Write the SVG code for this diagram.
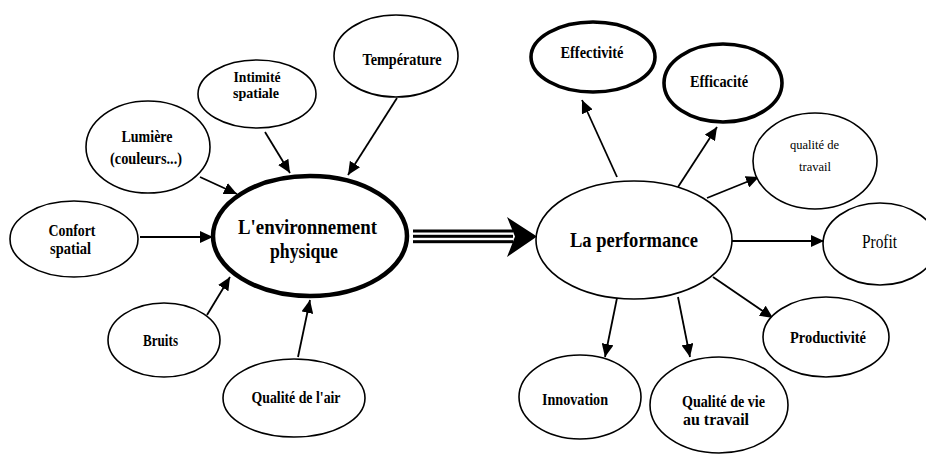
<svg xmlns="http://www.w3.org/2000/svg" width="926" height="454" viewBox="0 0 926 454">
<style>
.n{fill:#fff;stroke:#000;stroke-width:1.6}
.thick{stroke-width:4.5}
.med{stroke-width:3.6}
text{font-family:"Liberation Serif","Times New Roman",serif;font-weight:bold;font-size:17px;text-anchor:middle;fill:#000}
.big{font-size:22px}
.sm{font-size:15px}
.reg{font-weight:normal;font-size:13px}
.rg{font-weight:normal;font-size:18px}
.c line{stroke:#000;stroke-width:1.8;marker-end:url(#ah)}
</style>
<defs>
<marker id="ah" markerUnits="userSpaceOnUse" markerWidth="14" markerHeight="12" refX="13" refY="6" orient="auto">
<path d="M0,0 L13,6 L0,12 Z" fill="#000"/>
</marker>
</defs>
<rect width="926" height="454" fill="#fff"/>
<g class="c" id="connectors">
<line x1="140" y1="237" x2="213" y2="237"/>
<line x1="200" y1="177" x2="237" y2="194"/>
<line x1="265" y1="132" x2="290" y2="173"/>
<line x1="397" y1="98" x2="348" y2="175"/>
<line x1="207" y1="315" x2="230" y2="277"/>
<line x1="298" y1="357" x2="310" y2="300"/>
<line x1="617" y1="177" x2="582" y2="100"/>
<line x1="678" y1="187" x2="717" y2="127"/>
<line x1="707" y1="198" x2="759" y2="177"/>
<line x1="732" y1="241" x2="824" y2="241"/>
<line x1="713" y1="277" x2="773" y2="318"/>
<line x1="617" y1="298" x2="605" y2="357"/>
<line x1="678" y1="297" x2="690" y2="357"/>
<g id="big-arrow">
<rect x="413" y="229.5" width="100" height="3" fill="#000"/>
<rect x="413" y="234.8" width="100" height="3" fill="#000"/>
<rect x="413" y="240.2" width="100" height="3" fill="#000"/>
<path d="M507,217 L537,236.5 L507,257 L515,236.5 Z" fill="#000"/>
</g>
</g>
<g id="env"><ellipse class="n thick" cx="310" cy="236" rx="97" ry="60"/>
<text class="big" x="307.5" y="234" textLength="139" lengthAdjust="spacingAndGlyphs">L'environnement</text>
<text class="big" x="304" y="258" textLength="68" lengthAdjust="spacingAndGlyphs">physique</text></g>
<g id="perf"><ellipse class="n" cx="634" cy="240" rx="98" ry="59"/>
<text class="big" x="634" y="247" textLength="128" lengthAdjust="spacingAndGlyphs">La performance</text></g>
<g id="confort"><ellipse class="n" cx="74" cy="239" rx="64" ry="38"/>
<text x="72" y="236" textLength="47" lengthAdjust="spacingAndGlyphs">Confort</text>
<text x="70.5" y="254" textLength="41" lengthAdjust="spacingAndGlyphs">spatial</text></g>
<g id="lumiere"><ellipse class="n" cx="148" cy="147" rx="62" ry="46"/>
<text x="147" y="142" textLength="51" lengthAdjust="spacingAndGlyphs">Lumière</text>
<text x="146" y="164" textLength="72" lengthAdjust="spacingAndGlyphs">(couleurs...)</text></g>
<g id="intimite"><ellipse class="n" cx="257" cy="94" rx="59" ry="34"/>
<text class="sm" x="257" y="82" textLength="47" lengthAdjust="spacingAndGlyphs">Intimité</text>
<text class="sm" x="256" y="98" textLength="46" lengthAdjust="spacingAndGlyphs">spatiale</text></g>
<g id="temperature"><ellipse class="n" cx="396" cy="56" rx="62" ry="41"/>
<text x="402" y="65" textLength="79" lengthAdjust="spacingAndGlyphs">Température</text></g>
<g id="bruits"><ellipse class="n" cx="164" cy="340" rx="56" ry="37"/>
<text x="160.5" y="346" textLength="35" lengthAdjust="spacingAndGlyphs">Bruits</text></g>
<g id="air"><ellipse class="n" cx="294" cy="398" rx="71" ry="39"/>
<text x="296" y="403" textLength="89" lengthAdjust="spacingAndGlyphs">Qualité de l'air</text></g>
<g id="effectivite"><ellipse class="n med" cx="593" cy="57" rx="62" ry="35"/>
<text x="592" y="58" textLength="63" lengthAdjust="spacingAndGlyphs">Effectivité</text></g>
<g id="efficacite"><ellipse class="n med" cx="723" cy="83" rx="59" ry="39"/>
<text x="719" y="87" textLength="58" lengthAdjust="spacingAndGlyphs">Efficacité</text></g>
<g id="qualite-travail"><ellipse class="n" cx="815" cy="161" rx="62" ry="48"/>
<text class="reg" x="814.5" y="149" textLength="49" lengthAdjust="spacingAndGlyphs">qualité de</text>
<text class="reg" x="815" y="171" textLength="32" lengthAdjust="spacingAndGlyphs">travail</text></g>
<g id="profit"><ellipse class="n" cx="880" cy="244" rx="57" ry="41"/>
<text class="rg" x="879.5" y="248" textLength="35" lengthAdjust="spacingAndGlyphs">Profit</text></g>
<g id="productivite"><ellipse class="n" cx="826" cy="337" rx="63" ry="40"/>
<text x="828" y="343" textLength="76" lengthAdjust="spacingAndGlyphs">Productivité</text></g>
<g id="qualite-vie"><ellipse class="n" cx="719" cy="405" rx="69" ry="48"/>
<text x="723.5" y="407" textLength="83" lengthAdjust="spacingAndGlyphs">Qualité de vie</text>
<text x="716" y="425" textLength="66" lengthAdjust="spacingAndGlyphs">au travail</text></g>
<g id="innovation"><ellipse class="n" cx="580" cy="397" rx="61" ry="42"/>
<text x="575" y="405" textLength="66" lengthAdjust="spacingAndGlyphs">Innovation</text></g>
</svg>
